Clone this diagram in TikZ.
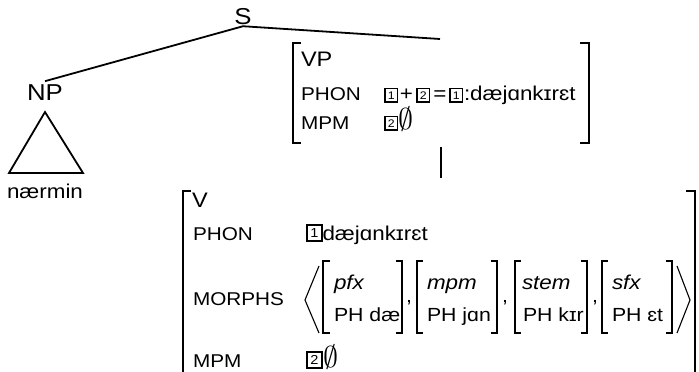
\documentclass[tikz,border=0pt]{standalone}
\usepackage{graphicx}
\usepackage{fontspec}
\setmainfont{Liberation Sans}[FakeStretch=1.12]
\newcommand{\es}{\scalebox{1.45}{$\emptyset$}}
\begin{document}
\begin{tikzpicture}[x=1pt,y=-1pt,
  every node/.style={inner sep=0pt, outer sep=0pt},
  tree/.style={anchor=base, font=\fontsize{23}{23}\selectfont},
  cat/.style={anchor=base west, font=\fontsize{21}{21}\selectfont},
  attr/.style={anchor=base west, font=\fontsize{18.5}{18.5}\selectfont},
  val/.style={anchor=base west, font=\fontsize{20}{20}\selectfont},
  op/.style={anchor=base, font=\fontsize{20}{20}\selectfont},
  ital/.style={anchor=base west, font=\fontsize{20}{20}\selectfont\itshape},
  ph/.style={anchor=base west, font=\fontsize{19}{19}\selectfont},
  comma/.style={anchor=base west, font=\fontsize{19}{19}\selectfont},
  tag/.style={draw, line width=1.7pt, minimum width=12.5pt, minimum height=13.5pt,
    anchor=south west, font=\fontsize{11}{11}\selectfont},
  tagl/.style={draw, line width=1.8pt, minimum width=15pt, minimum height=16pt,
    anchor=south west, font=\fontsize{13}{13}\selectfont},
  brk/.style={line width=1.6pt},
  sbrk/.style={line width=1.3pt},
  ang/.style={line width=1.1pt},
  edge/.style={line width=1.8pt}]
\useasboundingbox (0,0) rectangle (699,372);

% tree
\node[tree] (S) at (243,24) {S};
\node[tree] (NP) at (45,100) {NP};
\node[tree, font=\fontsize{20}{20}\selectfont] (nm) at (45,198) {nærmin};
\coordinate (vptop) at (440,39);
\draw[edge] ([yshift=-2pt]S.south) -- ([yshift=3pt]NP.north);
\draw[edge] ([yshift=-2pt]S.south) -- (vptop);
\draw[edge] (45,112) -- (9,173) -- (83,173) -- cycle;

% VP AVM
\draw[brk] (301,43) -- (293,43) -- (293,143) -- (301,143);
\draw[brk] (580,43) -- (589,43) -- (589,143) -- (580,143);
\node[cat] (vp) at (301,66) {VP};
\node[attr] (vpphon) at (301,100) {PHON};
\node[attr] (vpmpm) at (301,129) {MPM};
\node[tag] (t1) at (385,102) {1};
\node[op] (plus) at (406.5,100) {+};
\node[tag] (t2) at (417,102) {2};
\node[op] (eq) at (440,100) {=};
\node[tag] (t3) at (450,102) {1};
\node[val] (vpphonv) at (464,100) {:dæjɑnkɪrɛt};
\node[tag] (t4) at (385,130) {2};
\node[val] (vpmpmv) at (398.5,129) {\es};

\coordinate (vpbot) at (441,147);
\coordinate (vtop) at (441,178);
\draw[edge] (vpbot) -- (vtop);

% V AVM
\draw[brk] (191,191) -- (183,191) -- (183,373);
\draw[brk] (686,191) -- (695,191) -- (695,373);
\node[cat] (v) at (192,207) {V};
\node[attr] (vphon) at (193,240) {PHON};
\node[attr] (vmorphs) at (193,305) {MORPHS};
\node[attr] (vmpm) at (193,367) {MPM};
\node[tagl] (t5) at (307,241) {1};
\node[val] (vphonv) at (322.5,240) {dæjɑnkɪrɛt};
\node[tagl] (t6) at (307,368) {2};
\node[val] (vmpmv) at (323,367) {\es};

% MORPHS list
\draw[ang] (319,266) -- (305,300) -- (319,333);
\draw[ang] (677,266) -- (690,300) -- (677,333);

\draw[sbrk] (330,261) -- (323,261) -- (323,333) -- (330,333);
\draw[sbrk] (396,261) -- (402,261) -- (402,333) -- (396,333);
\node[ital] (m1) at (334,289) {pfx};
\node[ph] (p1) at (334,321) {PH dæ};
\node[comma] (c1) at (406,302) {,};

\draw[sbrk] (423,261) -- (417,261) -- (417,333) -- (423,333);
\draw[sbrk] (491,261) -- (497,261) -- (497,333) -- (491,333);
\node[ital] (m2) at (427,289) {mpm};
\node[ph] (p2) at (427,321) {PH jɑn};
\node[comma] (c2) at (502,302) {,};

\draw[sbrk] (521,261) -- (515,261) -- (515,333) -- (521,333);
\draw[sbrk] (581,261) -- (587,261) -- (587,333) -- (581,333);
\node[ital] (m3) at (522,289) {stem};
\node[ph] (p3) at (523,321) {PH kɪr};
\node[comma] (c3) at (592,302) {,};

\draw[sbrk] (608,261) -- (602,261) -- (602,333) -- (608,333);
\draw[sbrk] (666,261) -- (672,261) -- (672,333) -- (666,333);
\node[ital] (m4) at (612,289) {sfx};
\node[ph] (p4) at (612,321) {PH ɛt};
\end{tikzpicture}
\end{document}
